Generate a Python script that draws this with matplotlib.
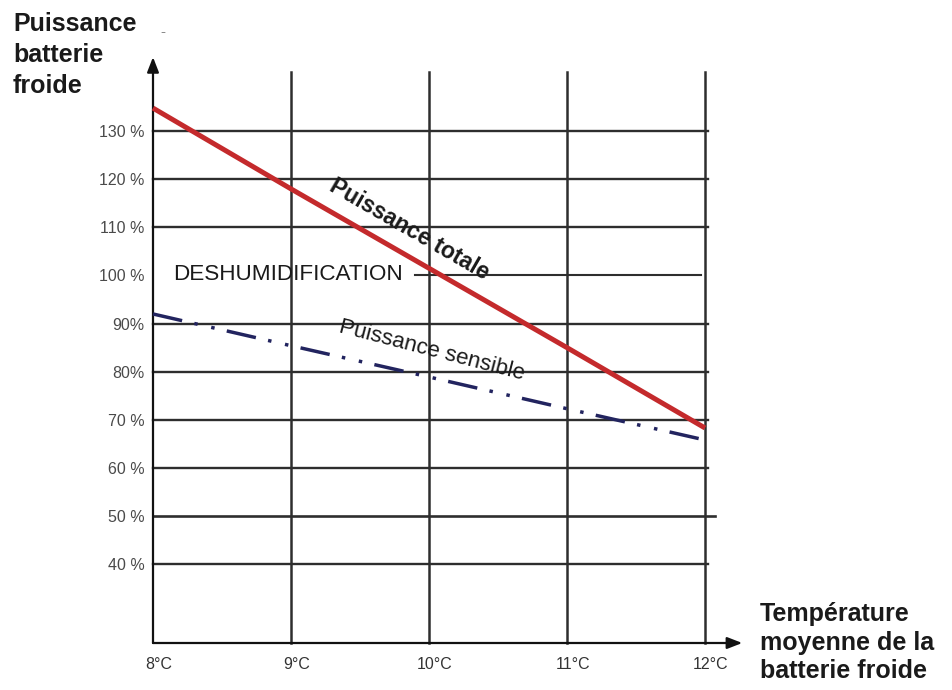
import matplotlib
matplotlib.use("Agg")
import matplotlib.pyplot as plt
from matplotlib.transforms import ScaledTranslation

# ---- data ----
temps = [8, 9, 10, 11, 12]
temp_labels = ["8°C", "9°C", "10°C", "11°C", "12°C"]
puissance_totale = [134.8, 118.0, 101.5, 85.0, 68.3]
puissance_sensible = [92.0, 85.4, 78.9, 72.3, 65.8]
y_levels = [130, 120, 110, 100, 90, 80, 70, 60, 50, 40]
y_labels = ["130 %", "120 %", "110 %", "100 %", "90%", "80%", "70 %", "60 %", "50 %", "40 %"]

FONT = ["Liberation Sans", "DejaVu Sans"]
plt.rcParams["font.family"] = FONT

fig = plt.figure(figsize=(9.52, 6.9), dpi=100)
fig.patch.set_facecolor("white")
ax = fig.add_axes([153/952, 1-643/690, (705-153)/952, (643-72)/690])
ax.set_xlim(8, 12)
ax.set_ylim(23.6, 142.3)
for s in ax.spines.values():
    s.set_visible(False)

grid_c = "#2e2e2e"
# horizontal grid lines
for lv in y_levels:
    if lv == 100:
        ax.plot([9.9, 11.97], [lv, lv], color=grid_c, lw=1.5, zorder=1, clip_on=False)
    elif lv == 50:
        ax.plot([8, 12.07], [lv, lv], color=grid_c, lw=1.9, zorder=1, clip_on=False)
    else:
        ax.plot([8, 12.02], [lv, lv], color=grid_c, lw=1.7, zorder=1, clip_on=False)
# vertical grid lines
for t in temps[1:]:
    ax.plot([t, t], [23.6, 142.3], color=grid_c, lw=1.8, zorder=1, clip_on=False)

# axes with arrows
ax.annotate("", xy=(12.27, 23.6), xytext=(8, 23.6), xycoords="data",
            arrowprops=dict(arrowstyle="-|>,head_length=0.9,head_width=0.35",
                            color="#111111", lw=1.6, shrinkA=0, shrinkB=0),
            annotation_clip=False, zorder=3)
ax.annotate("", xy=(8, 145.4), xytext=(8, 23.6), xycoords="data",
            arrowprops=dict(arrowstyle="-|>,head_length=0.9,head_width=0.35",
                            color="#111111", lw=1.6, shrinkA=0, shrinkB=0),
            annotation_clip=False, zorder=3)

# series
ax.plot(temps, puissance_totale, color="#c42a2c", lw=3.6, zorder=4,
        solid_capstyle="butt", clip_on=False)
ax.plot(temps, puissance_sensible, color="#22245f", lw=2.5, zorder=4,
        linestyle=(0, (8.6, 3.6, 1.0, 4.0, 1.0, 3.6)), dash_capstyle="butt",
        clip_on=False)

# ticks
ax.set_yticks(y_levels)
ax.set_yticklabels(y_labels)
ax.set_xticks(temps)
ax.set_xticklabels(temp_labels)
ax.tick_params(axis="both", length=0, labelsize=11.5)
ax.tick_params(axis="y", pad=6, colors="#4a4a4a")
ax.tick_params(axis="x", pad=10, colors="#333333")
off = ScaledTranslation(6/100, 0, fig.dpi_scale_trans)
for lab in ax.get_xticklabels():
    lab.set_transform(lab.get_transform() + off)

# annotations in plot
ax.text(8.145, 100.3, "DESHUMIDIFICATION", fontsize=16.2, ha="left", va="center",
        color="#1a1a1a", zorder=5)
ax.text(9.86, 109.6, "Puissance totale", fontsize=16.5, fontweight="bold",
        rotation=-30, ha="center", va="center", rotation_mode="anchor",
        color="#1a1a1a", zorder=5)
ax.text(10.02, 84.4, "Puissance sensible", fontsize=16,
        rotation=-14.5, ha="center", va="center", rotation_mode="anchor",
        color="#1a1a1a", zorder=5)

# axis titles
fig.text(13/952, 1-12/690, "Puissance\nbatterie\nfroide", fontsize=18,
         fontweight="bold", ha="left", va="top", color="#1a1a1a",
         linespacing=1.38)
fig.text(160/952, 1-32/690, "-", fontsize=11, color="#888888", ha="left", va="center")
fig.text(760/952, 1-602/690, "Température\nmoyenne de la\nbatterie froide",
         fontsize=18, fontweight="bold", ha="left", va="top", color="#1a1a1a",
         linespacing=1.25)

fig.savefig("out.png", dpi=100, facecolor="white")
